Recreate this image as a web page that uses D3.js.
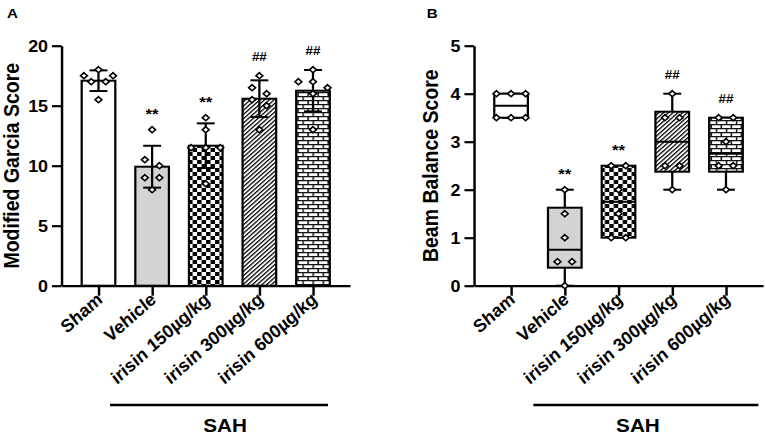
<!DOCTYPE html>
<html>
<head>
<meta charset="utf-8">
<script src="https://cdn.jsdelivr.net/npm/d3@7"></script>
<style>
  body { margin: 0; background: #fff; }
  text { font-family: "Liberation Sans", Arial, sans-serif; font-weight: bold; }
</style>
</head>
<body>
<script>
// values (6 animals per group)
var groups = ["Sham", "Vehicle", "irisin 150µg/kg", "irisin 300µg/kg", "irisin 600µg/kg"];
var garcia = [
    [17.5, 18, 17, 17.5, 17, 15.5],
    [13, 10.5, 10, 9, 9, 8],
    [14, 13, 11.5, 11.5, 11.5, 8.5],
    [17.5, 16.5, 16, 15.5, 15, 13],
    [18, 17, 17, 16.5, 16, 13]
];
var beam = [
    [4, 4, 4, 3.5, 3.5, 3.5],
    [2, 1.5, 1, 0.5, 0.5, 0],
    [2.5, 2.5, 2, 1.5, 1, 1],
    [4, 3.5, 3.5, 2.5, 2.5, 2],
    [3.5, 3.5, 3, 2.5, 2.5, 2]
];
var sigMarks = ["", "**", "**", "##", "##"];
var garciaTicks = [0, 5, 10, 15, 20];
var beamTicks = [0, 1, 2, 3, 4, 5];

// fills for the five groups
var fills = ["#ffffff", "#d3d3d3", "url(#checker)", "url(#hatch)", "url(#brick)"];

// the original figure is a bit wider than it is tall, so draw in a narrower
// space and let the viewBox stretch it
var stretch = 1.12,
    W = 765 / stretch,
    H = 435,
    yBottom = 285.7,
    yTop = 45.7;

var svg = d3.select("body").append("svg")
    .attr("width", 765)
    .attr("height", 435)
    .attr("viewBox", "0 0 " + W + " " + H)
    .attr("preserveAspectRatio", "none");

// patterns
var defs = svg.append("defs");

var checker = defs.append("pattern").attr("id", "checker")
    .attr("patternUnits", "userSpaceOnUse").attr("width", 8).attr("height", 8);
checker.append("rect").attr("width", 8).attr("height", 8).attr("fill", "#fff");
checker.append("rect").attr("width", 4).attr("height", 4).attr("fill", "#000");
checker.append("rect").attr("x", 4).attr("y", 4).attr("width", 4).attr("height", 4).attr("fill", "#000");

var hatch = defs.append("pattern").attr("id", "hatch")
    .attr("patternUnits", "userSpaceOnUse").attr("width", 3).attr("height", 3)
    .attr("patternTransform", "rotate(45)");
hatch.append("rect").attr("width", 3).attr("height", 3).attr("fill", "#fff");
hatch.append("line").attr("x1", 0.6).attr("x2", 0.6).attr("y1", 0).attr("y2", 3)
    .attr("stroke", "#000").attr("stroke-width", 1.2);

var brick = defs.append("pattern").attr("id", "brick")
    .attr("patternUnits", "userSpaceOnUse").attr("width", 9).attr("height", 8);
brick.append("rect").attr("width", 9).attr("height", 8).attr("fill", "#fff");
brick.append("path")
    .attr("d", "M0,0.6H9M0,4.6H9M0.6,0.6V4.6M5.1,4.6V8")
    .attr("stroke", "#111").attr("stroke-width", 1.4).attr("fill", "none");

// Prism style quartile (n+1 method)
function quartile(sorted, p) {
    var n = sorted.length, pos = (n + 1) * p;
    if (pos <= 1) return sorted[0];
    if (pos >= n) return sorted[n - 1];
    var lo = Math.floor(pos);
    return sorted[lo - 1] + (pos - lo) * (sorted[lo] - sorted[lo - 1]);
}

// spread points that sit close together into a row
function spread(vals, y, gap) {
    var pts = vals.map(function(v) { return { v: v, dx: 0 }; })
        .sort(function(a, b) { return b.v - a.v; });
    var rows = [], row = null;
    pts.forEach(function(p) {
        if (row && Math.abs(y(p.v) - y(row[0].v)) < 7) row.push(p);
        else { row = [p]; rows.push(row); }
    });
    rows.forEach(function(r) {
        var k = r.length;
        var slots = d3.range(k).map(function(j) { return (j - (k - 1) / 2) * gap; })
            .sort(function(a, b) { return Math.abs(a) - Math.abs(b) || a - b; });
        r.forEach(function(p, j) { p.dx = slots[j]; });
    });
    return pts;
}

function diamond(r) {
    return "M0," + (-r) + "L" + r + ",0L0," + r + "L" + (-r) + ",0Z";
}

function drawPanel(cfg, values, ticks, kind) {
    var g = svg.append("g");

    var x = d3.scalePoint().domain(groups).range([cfg.x0, cfg.x1]).padding(0.69);
    var y = d3.scaleLinear().domain([0, ticks[ticks.length - 1]]).range([yBottom, yTop]);
    var bw = 30, cap = 16;

    // Y axis
    var yAxis = g.append("g")
        .attr("transform", "translate(" + cfg.x0 + ",0)")
        .call(d3.axisLeft(y).tickValues(ticks).tickFormat(d3.format("d"))
            .tickSize(8.5).tickSizeOuter(0).tickPadding(3.5));
    yAxis.selectAll("path, line").attr("stroke", "#000").attr("stroke-width", 2.2);
    yAxis.selectAll("text").attr("fill", "#000").attr("font-size", 16).attr("dy", "0.36em");

    // X axis with slanted group names
    var xAxis = g.append("g")
        .attr("transform", "translate(0," + yBottom + ")")
        .call(d3.axisBottom(x).tickSize(10).tickSizeOuter(0));
    xAxis.selectAll("path, line").attr("stroke", "#000").attr("stroke-width", 2.2);
    xAxis.selectAll("text")
        .attr("fill", "#000")
        .attr("font-size", 17)
        .attr("font-style", "italic")
        .attr("text-anchor", "end")
        .attr("x", 4.5)
        .attr("y", 15)
        .attr("dy", null)
        .attr("transform", "rotate(-45,4.5,15)");

    var stats = values.map(function(vals, i) {
        var s = vals.slice().sort(d3.ascending);
        return {
            name: groups[i], i: i, vals: vals,
            mean: d3.mean(vals), sd: d3.deviation(vals),
            min: s[0], max: s[s.length - 1],
            q1: quartile(s, 0.25), med: quartile(s, 0.5), q3: quartile(s, 0.75)
        };
    });

    if (kind === "bar") {
        // bars with mean +/- SD
        g.selectAll(".bar").data(stats).enter().append("rect")
            .attr("x", function(d) { return x(d.name) - bw / 2; })
            .attr("width", bw)
            .attr("y", function(d) { return y(d.mean); })
            .attr("height", function(d) { return y(0) - y(d.mean); })
            .attr("fill", function(d) { return fills[d.i]; })
            .attr("stroke", "#000").attr("stroke-width", 2);

        var eb = g.selectAll(".err").data(stats).enter().append("g")
            .attr("stroke", "#000").attr("stroke-width", 2);
        eb.append("line")
            .attr("x1", function(d) { return x(d.name); })
            .attr("x2", function(d) { return x(d.name); })
            .attr("y1", function(d) { return y(d.mean - d.sd); })
            .attr("y2", function(d) { return y(d.mean + d.sd); });
        [-1, 1].forEach(function(sgn) {
            eb.append("line")
                .attr("x1", function(d) { return x(d.name) - cap / 2; })
                .attr("x2", function(d) { return x(d.name) + cap / 2; })
                .attr("y1", function(d) { return y(d.mean + sgn * d.sd); })
                .attr("y2", function(d) { return y(d.mean + sgn * d.sd); });
        });
    } else {
        // min-to-max box and whiskers
        var bx = g.selectAll(".box").data(stats).enter().append("g")
            .attr("stroke", "#000").attr("stroke-width", 2);
        bx.append("line")
            .attr("x1", function(d) { return x(d.name); })
            .attr("x2", function(d) { return x(d.name); })
            .attr("y1", function(d) { return y(d.min); })
            .attr("y2", function(d) { return y(d.max); });
        ["min", "max"].forEach(function(k) {
            bx.append("line")
                .attr("x1", function(d) { return x(d.name) - cap / 2; })
                .attr("x2", function(d) { return x(d.name) + cap / 2; })
                .attr("y1", function(d) { return y(d[k]); })
                .attr("y2", function(d) { return y(d[k]); });
        });
        bx.append("rect")
            .attr("x", function(d) { return x(d.name) - bw / 2; })
            .attr("width", bw)
            .attr("y", function(d) { return y(d.q3); })
            .attr("height", function(d) { return y(d.q1) - y(d.q3); })
            .attr("fill", function(d) { return fills[d.i]; });
        bx.append("line")
            .attr("x1", function(d) { return x(d.name) - bw / 2; })
            .attr("x2", function(d) { return x(d.name) + bw / 2; })
            .attr("y1", function(d) { return y(d.med); })
            .attr("y2", function(d) { return y(d.med); });
    }

    // individual animals
    stats.forEach(function(d) {
        g.selectAll(".pt" + d.i).data(spread(d.vals, y, 13)).enter().append("path")
            .attr("d", diamond(3))
            .attr("transform", function(p) { return "translate(" + (x(d.name) + p.dx) + "," + y(p.v) + ")"; })
            .attr("fill", "#fff").attr("stroke", "#000").attr("stroke-width", 1.6);
    });

    // significance marks
    g.selectAll(".sig").data(stats.filter(function(d) { return sigMarks[d.i]; })).enter().append("text")
        .attr("x", function(d) { return x(d.name); })
        .attr("y", function(d) {
            var c = y(d.max) - 19;
            return sigMarks[d.i] === "**" ? c + 8.6 : c + 4.2;
        })
        .attr("text-anchor", "middle")
        .attr("font-size", function(d) { return sigMarks[d.i] === "**" ? 15 : 12; })
        .text(function(d) { return sigMarks[d.i]; });

    // axis title
    g.append("text")
        .attr("transform", "translate(" + cfg.titleX + "," + (yTop + yBottom) / 2 + ") rotate(-90)")
        .attr("text-anchor", "middle")
        .attr("font-size", 19.5)
        .text(cfg.title);

    // panel letter
    g.append("text")
        .attr("x", cfg.letterX).attr("y", 18)
        .attr("font-size", 13.5)
        .text(cfg.letter);

    // SAH bracket
    g.append("line")
        .attr("x1", cfg.sah[0]).attr("x2", cfg.sah[1])
        .attr("y1", 405).attr("y2", 405)
        .attr("stroke", "#000").attr("stroke-width", 2.5);
    g.append("text")
        .attr("x", cfg.sah[2]).attr("y", 432)
        .attr("text-anchor", "middle")
        .attr("font-size", 18.5)
        .text("SAH");
}

drawPanel({ x0: 54.9, x1: 312.5, title: "Modified Garcia Score", titleX: 17.2,
            letter: "A", letterX: 6.3, sah: [98.2, 292.9, 200.9] }, garcia, garciaTicks, "bar");
drawPanel({ x0: 423.2, x1: 681.3, title: "Beam Balance Score", titleX: 391.3,
            letter: "B", letterX: 381, sah: [476.2, 677.1, 569.6] }, beam, beamTicks, "box");
</script>
</body>
</html>
